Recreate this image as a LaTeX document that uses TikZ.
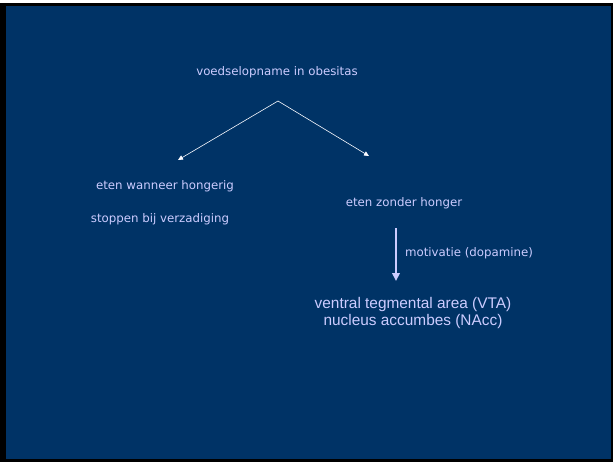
\documentclass[tikz,border=0pt]{standalone}
\usepackage{fontspec}
\setmainfont{DejaVu Sans}
\newfontfamily\arialfont{Liberation Sans}
\usetikzlibrary{arrows.meta}
\definecolor{slideblue}{RGB}{0,51,102}
\definecolor{lilac}{RGB}{204,204,255}
\tikzset{
    smalltext/.style={text=lilac, font=\fontsize{11.8}{14}\selectfont, inner sep=0pt},
    bigtext/.style={text=lilac, font=\arialfont\fontsize{15.4}{17.5}\selectfont, inner sep=0pt, align=center},
    thinarrow/.style={draw=white!90!lilac, line width=0.6pt, -{Triangle[length=5pt,width=4.5pt]}},
    fatarrow/.style={draw=lilac, line width=2.4pt, -{Triangle[length=8pt,width=7.5pt]}}
}
\begin{document}
\begin{tikzpicture}[x=1pt,y=-1pt]
        \useasboundingbox (0,0) rectangle (613,463);
        \fill[black] (0,3) rectangle (613,462);
        \fill[slideblue] (6,6) rectangle (611,459);

        \node[smalltext] (title) at (277,72) {voedselopname in obesitas};
        \coordinate (apex) at (278,101);
        \coordinate (lefttip) at (178,160);
        \coordinate (righttip) at (369,156);
        \draw[thinarrow] (apex) -- (lefttip);
        \draw[thinarrow] (apex) -- (righttip);

        \node[smalltext] (hungry) at (165,186) {eten wanneer hongerig};
        \node[smalltext] (full) at (160,219) {stoppen bij verzadiging};
        \node[smalltext] (nohunger) at (404,203) {eten zonder honger};

        \coordinate (motstart) at (396,228);
        \coordinate (motend) at (396,281);
        \draw[fatarrow] (motstart) -- (motend);
        \node[smalltext] (motivation) at (469,253) {motivatie (dopamine)};

        \node[bigtext] (vta) at (413,313) {ventral tegmental area (VTA)\\nucleus accumbes (NAcc)};
    \end{tikzpicture}
\end{document}
